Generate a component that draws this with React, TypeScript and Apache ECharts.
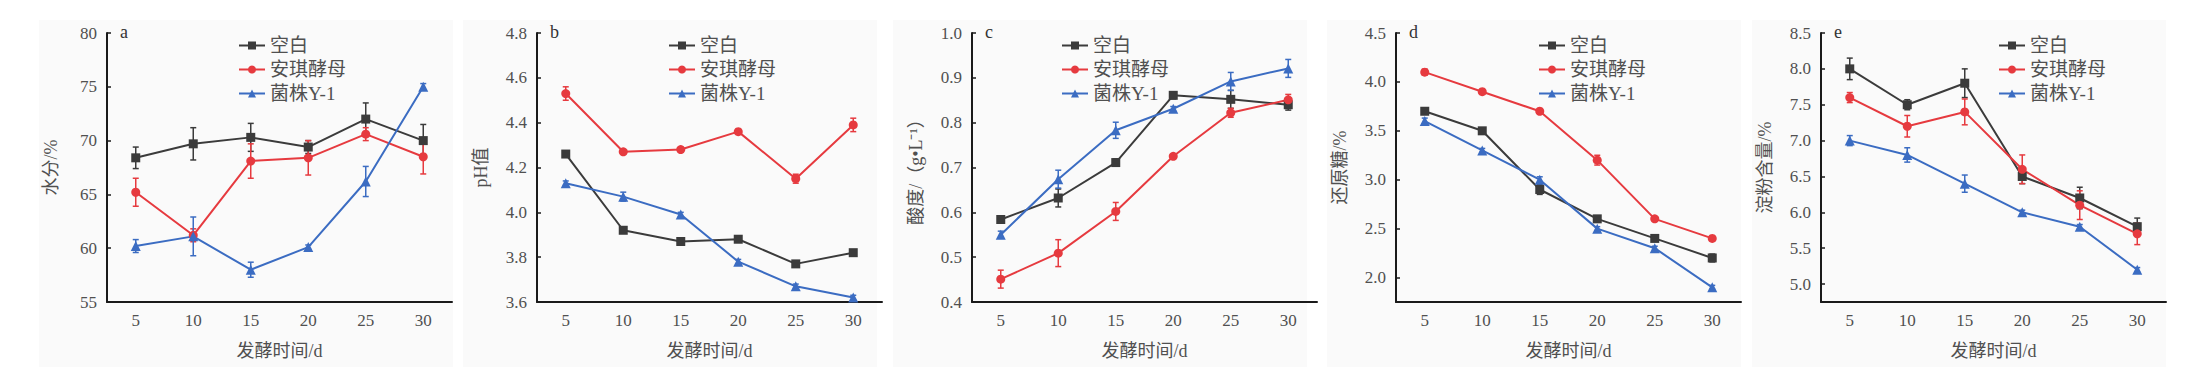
import React, { useEffect, useRef } from "react";
import * as echarts from "echarts";

const days = ["5", "10", "15", "20", "25", "30"];
const seriesNames = ["空白", "安琪酵母", "菌株Y-1"];
const xAxisTitle = "发酵时间/d";

// a: 水分
const moistureBlank = [68.4, 69.7, 70.3, 69.4, 72.0, 70.0];
const moistureBlankErr = [1.0, 1.5, 1.3, 0.6, 1.5, 1.5];
const moistureAngel = [65.2, 61.2, 68.1, 68.4, 70.6, 68.5];
const moistureAngelErr = [1.3, 0.6, 1.6, 1.6, 0.6, 1.6];
const moistureY1 = [60.2, 61.1, 58.0, 60.1, 66.2, 75.0];
const moistureY1Err = [0.6, 1.8, 0.7, 0.2, 1.4, 0.3];

// b: pH
const phBlank = [4.26, 3.92, 3.87, 3.88, 3.77, 3.82];
const phBlankErr = [0.01, 0.01, 0.01, 0.01, 0.01, 0.01];
const phAngel = [4.53, 4.27, 4.28, 4.36, 4.15, 4.39];
const phAngelErr = [0.03, 0.01, 0.01, 0.01, 0.02, 0.03];
const phY1 = [4.13, 4.07, 3.99, 3.78, 3.67, 3.62];
const phY1Err = [0.01, 0.02, 0.01, 0.01, 0.01, 0.01];

// c: 酸度
const acidBlank = [0.584, 0.632, 0.711, 0.861, 0.852, 0.84];
const acidBlankErr = [0.005, 0.02, 0.008, 0.008, 0.02, 0.012];
const acidAngel = [0.451, 0.509, 0.602, 0.725, 0.822, 0.851];
const acidAngelErr = [0.02, 0.03, 0.02, 0.005, 0.01, 0.012];
const acidY1 = [0.55, 0.674, 0.783, 0.831, 0.892, 0.921];
const acidY1Err = [0.008, 0.02, 0.018, 0.005, 0.02, 0.02];

// d: 还原糖
const sugarBlank = [3.7, 3.5, 2.9, 2.6, 2.4, 2.2];
const sugarBlankErr = [0.03, 0.02, 0.05, 0.02, 0.02, 0.04];
const sugarAngel = [4.1, 3.9, 3.7, 3.2, 2.6, 2.4];
const sugarAngelErr = [0.03, 0.02, 0.02, 0.05, 0.02, 0.02];
const sugarY1 = [3.6, 3.3, 3.0, 2.5, 2.3, 1.9];
const sugarY1Err = [0.03, 0.02, 0.03, 0.02, 0.02, 0.02];

// e: 淀粉含量
const starchBlank = [8.0, 7.5, 7.8, 6.5, 6.2, 5.8];
const starchBlankErr = [0.15, 0.07, 0.2, 0.1, 0.15, 0.12];
const starchAngel = [7.6, 7.2, 7.4, 6.6, 6.1, 5.7];
const starchAngelErr = [0.07, 0.15, 0.18, 0.2, 0.2, 0.15];
const starchY1 = [7.0, 6.8, 6.4, 6.0, 5.8, 5.2];
const starchY1Err = [0.07, 0.1, 0.12, 0.03, 0.03, 0.03];

const panelLetters = ["a", "b", "c", "d", "e"];
const yTitles = ["水分/%", "pH值", "酸度/（g•L⁻¹）", "还原糖/%", "淀粉含量/%"];
const yMins = [55, 3.6, 0.4, 1.75, 4.75];
const yMaxs = [80, 4.8, 1.0, 4.5, 8.5];
const yTicks = [
  [55, 60, 65, 70, 75, 80],
  [3.6, 3.8, 4.0, 4.2, 4.4, 4.6, 4.8],
  [0.4, 0.5, 0.6, 0.7, 0.8, 0.9, 1.0],
  [2.0, 2.5, 3.0, 3.5, 4.0, 4.5],
  [5.0, 5.5, 6.0, 6.5, 7.0, 7.5, 8.0, 8.5],
];
const yDecimals = [0, 1, 1, 1, 1];

const panelValues = [
  [moistureBlank, moistureAngel, moistureY1],
  [phBlank, phAngel, phY1],
  [acidBlank, acidAngel, acidY1],
  [sugarBlank, sugarAngel, sugarY1],
  [starchBlank, starchAngel, starchY1],
];
const panelErrors = [
  [moistureBlankErr, moistureAngelErr, moistureY1Err],
  [phBlankErr, phAngelErr, phY1Err],
  [acidBlankErr, acidAngelErr, acidY1Err],
  [sugarBlankErr, sugarAngelErr, sugarY1Err],
  [starchBlankErr, starchAngelErr, starchY1Err],
];

// layout (pixels)
const gridLefts = [107, 537, 972, 1396, 1821];
const gridWidth = 345;
const gridTop = 33;
const gridHeight = 269;
const legendLefts = [233, 663, 1056, 1533, 1993];
const bgLefts = [39, 463, 893, 1327, 1752];
const bgWidth = 414;

const colors = ["#3b3b3b", "#e63a3f", "#3b6cc2"];
const symbols = ["rect", "circle", "triangle"];
const symbolSizes = [9, 9, 10];

const FONT = '"Liberation Serif", "Noto Sans CJK SC", serif';
const TEXT = "#505050";

export default function App() {
  const ref = useRef<HTMLDivElement>(null);

  useEffect(() => {
    if (!ref.current) return;
    const chart = echarts.init(ref.current, undefined, { renderer: "svg" });

    const grid: any[] = [];
    const xAxis: any[] = [];
    const yAxis: any[] = [];
    const series: any[] = [];
    const legend: any[] = [];
    const graphic: any[] = [];

    for (let p = 0; p < 5; p++) {
      graphic.push({
        type: "rect",
        left: bgLefts[p],
        top: 20,
        shape: { width: bgWidth, height: 347 },
        style: { fill: "#fafafa" },
        z: -10,
        silent: true,
      });
      graphic.push({
        type: "text",
        x: gridLefts[p] + 13,
        y: gridTop - 1,
        style: {
          text: panelLetters[p],
          font: `18px ${FONT}`,
          fill: "#333",
          verticalAlign: "middle",
          textAlign: "left",
        },
        z: 10,
      });

      grid.push({ left: gridLefts[p], top: gridTop, width: gridWidth, height: gridHeight });
      xAxis.push({
        type: "category",
        gridIndex: p,
        data: days,
        boundaryGap: true,
        name: xAxisTitle,
        nameLocation: "middle",
        nameGap: 40,
        nameTextStyle: { fontFamily: FONT, fontSize: 18, color: TEXT },
        axisLine: { lineStyle: { color: "#1a1a1a", width: 2 } },
        axisTick: { inside: true, alignWithLabel: true, length: 4, lineStyle: { color: "#1a1a1a", width: 1.5 } },
        axisLabel: { margin: 10, fontFamily: FONT, fontSize: 17, color: TEXT },
        splitLine: { show: false },
      });
      const dec = yDecimals[p];
      yAxis.push({
        type: "value",
        gridIndex: p,
        min: yMins[p],
        max: yMaxs[p],
        name: yTitles[p],
        nameLocation: "middle",
        nameGap: 47,
        nameTextStyle: { fontFamily: FONT, fontSize: 18, color: TEXT },
        axisLine: { show: true, lineStyle: { color: "#1a1a1a", width: 2 } },
        axisTick: { show: true, inside: true, length: 4, customValues: yTicks[p], lineStyle: { color: "#1a1a1a", width: 1.5 } },
        axisLabel: {
          margin: 10,
          fontFamily: FONT,
          fontSize: 17,
          color: TEXT,
          customValues: yTicks[p],
          formatter: (v: number) => v.toFixed(dec),
        },
        splitLine: { show: false },
      });
      legend.push({
        data: seriesNames,
        orient: "vertical",
        left: legendLefts[p],
        top: 30,
        itemWidth: 26,
        itemHeight: 10,
        itemGap: 3,
        textStyle: { fontFamily: FONT, fontSize: 19, color: TEXT, lineHeight: 21 },
        selectedMode: false,
      });

      for (let s = 0; s < 3; s++) {
        const vals = panelValues[p][s];
        const errs = panelErrors[p][s];
        const color = colors[s];
        series.push({
          type: "custom",
          name: "err-" + p + "-" + s,
          xAxisIndex: p,
          yAxisIndex: p,
          z: 1,
          data: vals.map((v, i) => [i, v - errs[i], v + errs[i]]),
          encode: { x: 0, y: [1, 2] },
          renderItem: (params: any, api: any) => {
            const x = api.value(0);
            const lo = api.coord([x, api.value(1)]);
            const hi = api.coord([x, api.value(2)]);
            const w = 3;
            const st = { stroke: color, lineWidth: 1.5 };
            return {
              type: "group",
              children: [
                { type: "line", shape: { x1: lo[0], y1: lo[1], x2: hi[0], y2: hi[1] }, style: st },
                { type: "line", shape: { x1: lo[0] - w, y1: lo[1], x2: lo[0] + w, y2: lo[1] }, style: st },
                { type: "line", shape: { x1: hi[0] - w, y1: hi[1], x2: hi[0] + w, y2: hi[1] }, style: st },
              ],
            };
          },
        });
        series.push({
          type: "line",
          name: seriesNames[s],
          xAxisIndex: p,
          yAxisIndex: p,
          z: 2,
          data: vals,
          symbol: symbols[s],
          symbolSize: symbolSizes[s],
          lineStyle: { color, width: 2 },
          itemStyle: { color },
        });
      }
    }

    chart.setOption({
      animation: false,
      backgroundColor: "#ffffff",
      textStyle: { fontFamily: FONT },
      grid,
      xAxis,
      yAxis,
      legend,
      series,
      graphic,
    });

    return () => chart.dispose();
  }, []);

  return (
    <div
      ref={ref}
      style={{ position: "absolute", left: 0, top: 0, width: 2191, height: 385 }}
    />
  );
}
